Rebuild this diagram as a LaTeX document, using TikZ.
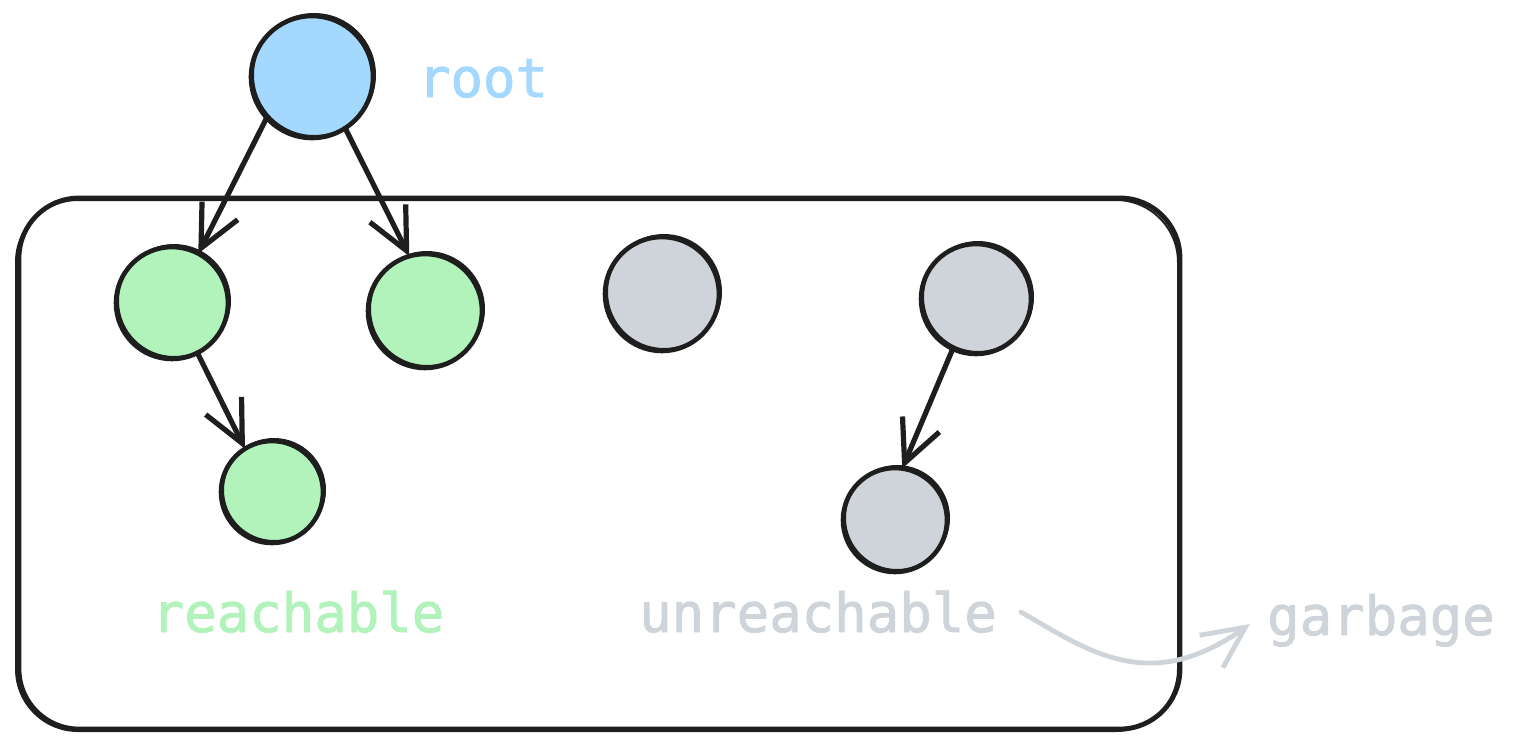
\documentclass[tikz,border=0pt]{standalone}
\usepackage{fontspec}
\newfontfamily\codefont[FakeBold=1.6]{DejaVu Sans Mono}
\usetikzlibrary{arrows.meta}
\definecolor{ink}{HTML}{1E1E1E}
\definecolor{rootblue}{HTML}{A5D8FF}
\definecolor{reachgreen}{HTML}{B2F2BB}
\definecolor{garbgray}{HTML}{CED4DA}
\tikzset{
  obj/.style={circle, draw=ink, line width=2.3pt, inner sep=0pt, outer sep=0pt},
  rootobj/.style={obj, fill=rootblue, minimum size=61pt},
  live/.style={obj, fill=reachgreen},
  dead/.style={obj, fill=garbgray},
  ref/.style={draw=ink, line width=2.6pt, line cap=round,
    -{Straight Barb[length=21pt,width=20pt,line width=2.6pt]}},
  lbl/.style={font=\codefont\fontsize{27}{30}\selectfont, inner sep=0pt, anchor=base},
  sketch/.style={draw=ink, line width=1pt}
}
\begin{document}
\begin{tikzpicture}[x=0.5pt,y=-0.5pt]
\useasboundingbox (0,0) rectangle (1517,750);
% heap region
\draw[ink, line width=2.4pt, rounded corners=30pt] (19,198) rectangle (1180,729);
\draw[ink, line width=1pt, rounded corners=31pt] (16,200) rectangle (1178,731);
% objects
\node[rootobj] (root) at (312,77) {};
\node[live, minimum size=56pt] (g1) at (172,303) {};
\node[live, minimum size=57pt] (g2) at (425,311) {};
\node[live, minimum size=51pt] (g3) at (272,492) {};
\node[dead, minimum size=57pt] (d1) at (662,294) {};
\node[dead, minimum size=55pt] (d2) at (976,299) {};
\node[dead, minimum size=52pt] (d3) at (895,520) {};
% sketchy second strokes
\foreach \n/\r in {root/61,g1/56,g2/57,g3/51,d1/57,d2/55,d3/52}{
  \draw[sketch] ([shift={(2,-2)}]\n.center) circle[radius=\r];
}
% references
\draw[ref] (root.222) -- (g1.62);
\draw[ref] (root.303) -- (g2.106);
\draw[ref] (g1.297) -- (g3.122);
\draw[ref] (d2.245) -- (d3.82);
% labels
\node[lbl, text=rootblue] (lroot) at (483,97) {root};
\node[lbl, text=reachgreen] (lreach) at (298,632) {reachable};
\node[lbl, text=garbgray] (lunreach) at (818,632) {unreachable};
\node[lbl, text=garbgray] (lgarb) at (1381,635) {garbage};
% to garbage
\coordinate (gs) at (1021,612);
\coordinate (ge) at (1250,624);
\draw[garbgray, line width=2.4pt, line cap=round,
  -{Straight Barb[length=21pt,width=20pt,line width=2.4pt]}]
  (gs) .. controls (1090,652) and (1150,695) .. (ge);
\end{tikzpicture}
\end{document}
